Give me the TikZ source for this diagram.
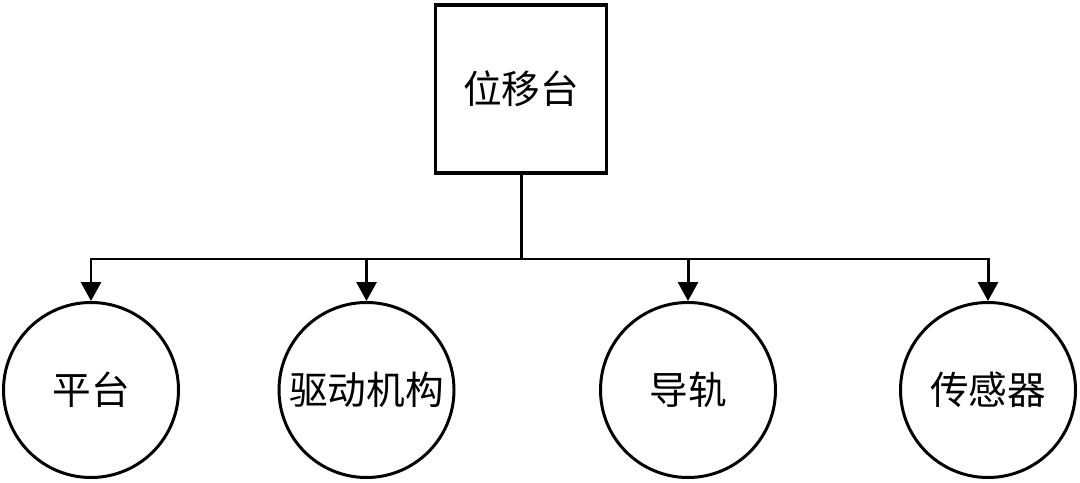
\documentclass[tikz,border=0pt]{standalone}
\usepackage{fontspec}
\setmainfont{Noto Sans CJK SC}
\usetikzlibrary{arrows.meta}

\begin{document}
\begin{tikzpicture}[line width=1.7pt, >={Triangle[width=0.4cm,length=0.38cm]},
    part/.style = {draw, circle, minimum size=3.5cm, inner sep=0pt, font=\fontsize{22}{26}\selectfont},
    top/.style = {draw, line width=2.2pt, minimum width=3.42cm, minimum height=3.36cm, font=\fontsize{22}{26}\selectfont}]
    \useasboundingbox (0,0) rectangle (21.6,9.64);
    \node[top] (stage) at (10.42,7.86) {位移台};
    \node[part] (p1) at (1.82,1.84) {平台};
    \node[part] (p2) at (7.33,1.84) {驱动机构};
    \node[part] (p3) at (13.76,1.84) {导轨};
    \node[part] (p4) at (19.76,1.84) {传感器};
    \coordinate (bus) at (stage.south |- 0,4.46);

\draw (stage.south) -- (bus);
\draw[->] (bus) -| (p1.north);
\draw[->] (bus) -| (p2.north);
\draw[->] (bus) -| (p3.north);
\draw[->] (bus) -| (p4.north);
\end{tikzpicture}
\end{document}
